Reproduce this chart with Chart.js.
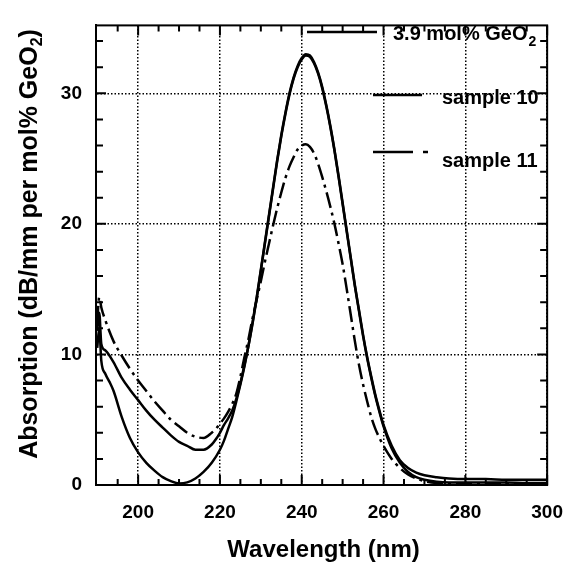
<!DOCTYPE html>
<html><head><meta charset="utf-8">
<script src="https://cdn.jsdelivr.net/npm/chart.js@4"></script>
<style>html,body{margin:0;padding:0;background:#fff;}canvas{display:block;}</style>
</head><body>
<canvas id="c" width="579" height="567"></canvas>
<script>
// ---- data ----
const seriesNames = ["3.9 mol% GeO2", "sample 10", "sample 11"];

const wavelengthA = [190,190.5,191,192,193,194,196,198,200,202,204,206,208,210,212,214,216,218,220,221,222,223,224,225,226,227,228,229,230,231,232,233,234,235,236,237,238,239,240,241,242,243,244,245,246,247,248,249,250,251,252,253,254,255,256,257,258,259,260,262,264,266,268,270,273,276,280,285,290,295,300];
const absorptionA = [10.5,12.0,9.5,8.5,7.9,7.2,5.2,3.6,2.5,1.7,1.1,0.6,0.3,0.12,0.2,0.5,1.0,1.7,2.7,3.4,4.3,5.2,6.4,7.7,9.1,10.7,12.5,14.4,16.5,18.6,20.7,22.8,24.9,26.8,28.5,30.0,31.2,32.1,32.7,33.0,32.9,32.4,31.6,30.5,29.1,27.5,25.7,23.7,21.6,19.5,17.4,15.3,13.4,11.5,9.8,8.3,6.9,5.7,4.6,3.0,1.9,1.3,0.95,0.75,0.6,0.5,0.45,0.45,0.4,0.4,0.4];

const wavelengthB = [190,190.5,191,192,194,196,198,200,202,204,206,208,210,212,214,216,218,219,220,221,222,223,224,225,226,227,228,229,230,231,232,233,234,235,236,237,238,239,240,241,242,243,244,245,246,247,248,249,250,251,252,253,254,255,256,257,258,259,260,262,264,266,268,270,273,276,280,285,290,295,300];
const absorptionB = [11.8,13.2,10.8,10.3,9.4,8.2,7.3,6.5,5.7,5.0,4.4,3.8,3.3,3.0,2.7,2.7,3.1,3.5,4.0,4.6,5.1,5.7,6.6,7.8,9.2,10.7,12.4,14.3,16.4,18.5,20.6,22.7,24.8,26.7,28.4,29.9,31.1,32.0,32.6,32.9,32.8,32.3,31.5,30.4,29.0,27.4,25.6,23.6,21.5,19.4,17.3,15.2,13.3,11.4,9.7,8.2,6.8,5.6,4.5,2.8,1.7,1.0,0.6,0.4,0.25,0.2,0.2,0.2,0.2,0.15,0.15];

const wavelengthC = [190,190.5,191,192,194,196,198,200,202,204,206,208,210,212,214,216,218,219,220,221,222,223,224,225,226,227,228,229,230,231,232,233,234,235,236,237,238,239,240,241,242,243,244,245,246,247,248,249,250,251,252,253,254,255,256,257,258,259,260,262,264,266,268,270,273,276,280,285,290,295,300];
const absorptionC = [12.5,14.4,13.6,12.6,11.0,9.9,8.9,8.0,7.2,6.4,5.7,5.0,4.5,4.0,3.7,3.6,4.0,4.3,4.7,5.1,5.6,6.2,7.0,8.3,9.8,11.2,12.8,14.2,15.6,17.1,18.5,19.9,21.2,22.4,23.5,24.4,25.1,25.7,26.0,26.1,25.9,25.4,24.6,23.6,22.5,21.3,20.0,18.5,16.9,15.0,13.0,11.0,9.2,7.7,6.4,5.2,4.3,3.6,3.0,2.0,1.3,0.8,0.5,0.3,0.15,0.1,0.05,0.05,0.05,0.05,0.05];

const xTickLabels = [200,220,240,260,280,300];
const yTickLabels = [0,10,20,30];
const xMinorTicks = [195,205,210,215,225,230,235,245,250,255,265,270,275,285,290,295];
const yMinorTicks = [2,4,6,8,12,14,16,18,22,24,26,28,32,34];

const xTitle = "Wavelength (nm)";
const yTitleMain = "Absorption (dB/mm per mol% GeO";
const yTitleSub = "2";
const yTitleEnd = ")";

// ---- chart ----
const FONT = "'Liberation Sans', Arial, sans-serif";
const toPts = (xs, ys) => xs.map((x, i) => ({x: x, y: ys[i]}));

const decorPlugin = {
  id: 'decor',
  afterDatasetsDraw(chart) {
    const ctx = chart.ctx;
    const xs = chart.scales.x, ys = chart.scales.y;
    const a = chart.chartArea;
    ctx.save();
    ctx.strokeStyle = '#000';
    ctx.lineWidth = 2;
    ctx.strokeRect(a.left, a.top, a.right - a.left, a.bottom - a.top);
    ctx.beginPath();
    const tickX = (v, len) => {
      const p = xs.getPixelForValue(v);
      ctx.moveTo(p, a.bottom); ctx.lineTo(p, a.bottom - len);
      ctx.moveTo(p, a.top); ctx.lineTo(p, a.top + len);
    };
    const tickY = (v, len) => {
      const p = ys.getPixelForValue(v);
      ctx.moveTo(a.left, p); ctx.lineTo(a.left + len, p);
      ctx.moveTo(a.right, p); ctx.lineTo(a.right - len, p);
    };
    xTickLabels.forEach(v => tickX(v, 10));
    xMinorTicks.forEach(v => tickX(v, 6));
    yTickLabels.forEach(v => tickY(v, 10));
    yMinorTicks.forEach(v => tickY(v, 7));
    ctx.stroke();
    ctx.restore();
  },
  afterDraw(chart) {
    const ctx = chart.ctx;
    const a = chart.chartArea;
    ctx.save();
    ctx.fillStyle = '#000';
    ctx.strokeStyle = '#000';
    // axis titles
    ctx.font = "bold 24px " + FONT;
    ctx.textAlign = 'center';
    ctx.textBaseline = 'middle';
    ctx.fillText(xTitle, (a.left + a.right) / 2 + 2, 550);

    ctx.save();
    ctx.translate(30, 244);
    ctx.rotate(-Math.PI / 2);
    ctx.textAlign = 'left';
    const mainFont = "bold 25px " + FONT, subFont = "bold 16px " + FONT;
    ctx.font = mainFont;
    const w1 = ctx.measureText(yTitleMain).width;
    const w3 = ctx.measureText(yTitleEnd).width;
    ctx.font = subFont;
    const w2 = ctx.measureText(yTitleSub).width;
    let x0 = -(w1 + w2 + w3) / 2;
    ctx.font = mainFont;
    ctx.fillText(yTitleMain, x0, 0);
    ctx.font = subFont;
    ctx.fillText(yTitleSub, x0 + w1, 8);
    ctx.font = mainFont;
    ctx.fillText(yTitleEnd, x0 + w1 + w2, 0);
    ctx.restore();

    // legend
    ctx.lineWidth = 2.5;
    ctx.textAlign = 'left';
    ctx.textBaseline = 'middle';
    const legendItems = [
      {lx1: 307, lx2: 377, ly: 32, tx: 393, ty: 34, dash: []},
      {lx1: 373, lx2: 422, ly: 95, tx: 442, ty: 98, dash: []},
      {lx1: 373, lx2: 428, ly: 152, tx: 442, ty: 161, dash: [40, 10, 5]}
    ];
    legendItems.forEach((it, i) => {
      ctx.setLineDash(it.dash);
      ctx.beginPath();
      ctx.moveTo(it.lx1, it.ly); ctx.lineTo(it.lx2, it.ly);
      ctx.stroke();
      ctx.setLineDash([]);
      ctx.font = "bold 20px " + FONT;
      const name = seriesNames[i];
      if (name.endsWith("GeO2")) {
        const main = name.slice(0, -1);
        ctx.fillText(main, it.tx, it.ty);
        const w = ctx.measureText(main).width;
        ctx.font = "bold 14px " + FONT;
        ctx.fillText("2", it.tx + w + 1, it.ty + 8);
      } else {
        ctx.fillText(name, it.tx, it.ty);
      }
    });
    ctx.restore();
  }
};

new Chart(document.getElementById('c'), {
  type: 'line',
  data: {
    datasets: [
      {label: seriesNames[0], data: toPts(wavelengthA, absorptionA), borderColor: '#000', borderWidth: 2.5, pointRadius: 0, cubicInterpolationMode: 'monotone', fill: false},
      {label: seriesNames[1], data: toPts(wavelengthB, absorptionB), borderColor: '#000', borderWidth: 2.5, pointRadius: 0, cubicInterpolationMode: 'monotone', fill: false},
      {label: seriesNames[2], data: toPts(wavelengthC, absorptionC), borderColor: '#000', borderWidth: 2.5, pointRadius: 0, cubicInterpolationMode: 'monotone', fill: false, borderDash: [16, 5, 3, 5]}
    ]
  },
  options: {
    responsive: false,
    devicePixelRatio: 1,
    animation: false,
    layout: {padding: {left: 0, right: 29, top: 10, bottom: 0}},
    plugins: {legend: {display: false}, tooltip: {enabled: false}, title: {display: false}},
    scales: {
      x: {
        type: 'linear', min: 189.7, max: 300,
        afterBuildTicks: (axis) => { axis.ticks = xTickLabels.map(v => ({value: v})); },
        afterFit: (scale) => { scale.height = 82; },
        grid: {color: '#000', lineWidth: 1.5, drawTicks: false},
        border: {display: true, color: '#000', width: 2, dash: [1.5, 2]},
        ticks: {color: '#000', font: {family: FONT, size: 19, weight: 'bold'}, padding: 16, maxRotation: 0}
      },
      y: {
        type: 'linear', min: 0, max: 35.2,
        afterBuildTicks: (axis) => { axis.ticks = yTickLabels.map(v => ({value: v})); },
        afterFit: (scale) => { scale.width = 96; },
        grid: {color: '#000', lineWidth: 1.5, drawTicks: false},
        border: {display: true, color: '#000', width: 2, dash: [1.5, 2]},
        ticks: {color: '#000', font: {family: FONT, size: 19, weight: 'bold'}, padding: 14}
      }
    }
  },
  plugins: [decorPlugin]
});
</script>
</body></html>
